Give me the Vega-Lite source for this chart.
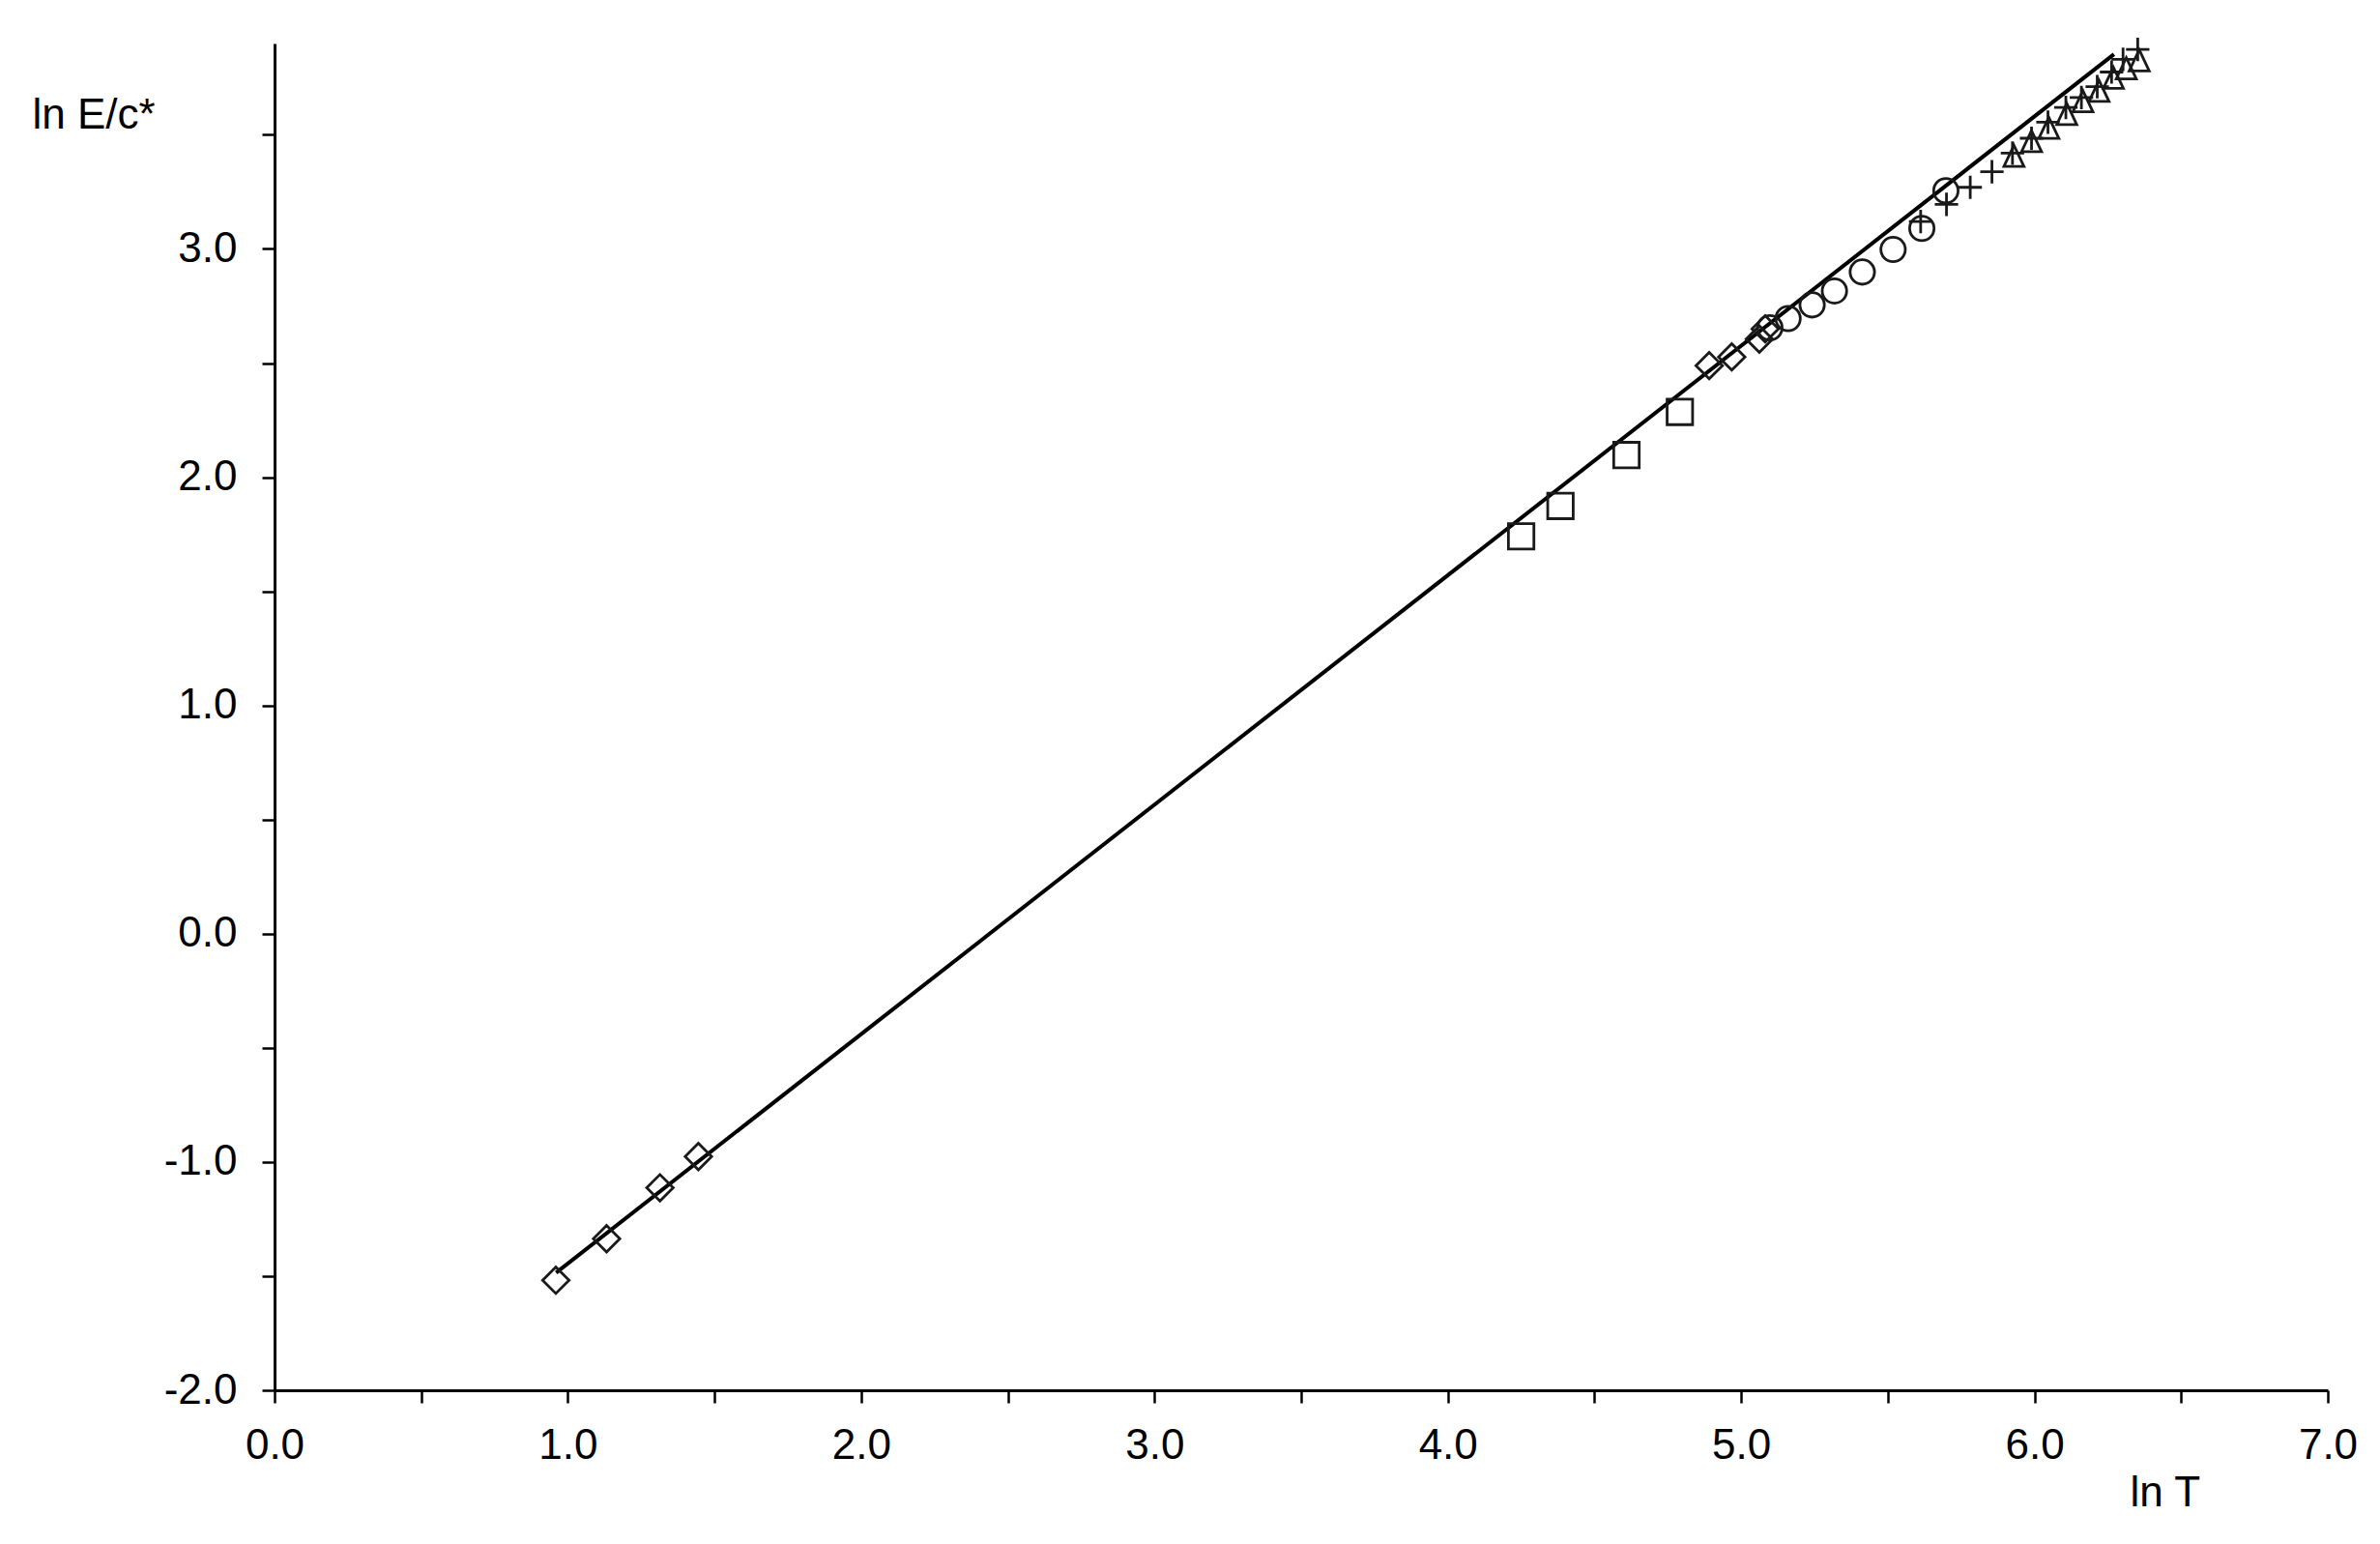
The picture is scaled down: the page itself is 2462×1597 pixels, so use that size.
{
  "$schema": "https://vega.github.io/schema/vega-lite/v6.json",
  "width": 2124,
  "height": 1393,
  "autosize": {"type": "none"},
  "padding": {"left": 284, "top": 45, "right": 54, "bottom": 159},
  "background": "white",
  "config": {
    "view": {"stroke": null},
    "font": "Liberation Sans",
    "axis": {
      "grid": false,
      "domainColor": "#000",
      "domainWidth": 3,
      "tickColor": "#000",
      "tickWidth": 2.5,
      "tickSize": 13,
      "labelFontSize": 44,
      "labelColor": "#000",
      "labelFont": "Liberation Sans",
      "labelFlush": false,
      "labelOverlap": false,
      "titleFont": "Liberation Sans",
      "titleFontSize": 44,
      "titleFontWeight": "normal",
      "titleColor": "#000",
      "titleAngle": 0,
      "titleAlign": "left",
      "titleBaseline": "alphabetic"
    }
  },
  "datasets": {
    "fit": [
      {"lnT": 0.96, "lnE": -1.485},
      {"lnT": 6.271, "lnE": 3.853}
    ],
    "points": [
      {"series": "diamond", "lnT": 0.959, "lnE": -1.518},
      {"series": "diamond", "lnT": 1.132, "lnE": -1.336},
      {"series": "diamond", "lnT": 1.314, "lnE": -1.113},
      {"series": "diamond", "lnT": 1.445, "lnE": -0.976},
      {"series": "diamond", "lnT": 4.891, "lnE": 2.489},
      {"series": "diamond", "lnT": 4.968, "lnE": 2.527},
      {"series": "diamond", "lnT": 5.062, "lnE": 2.605},
      {"series": "diamond", "lnT": 5.082, "lnE": 2.65},
      {"series": "square", "lnT": 4.25, "lnE": 1.741},
      {"series": "square", "lnT": 4.384, "lnE": 1.874},
      {"series": "square", "lnT": 4.609, "lnE": 2.097},
      {"series": "square", "lnT": 4.791, "lnE": 2.286},
      {"series": "circle", "lnT": 5.098, "lnE": 2.655},
      {"series": "circle", "lnT": 5.16, "lnE": 2.695},
      {"series": "circle", "lnT": 5.242, "lnE": 2.755},
      {"series": "circle", "lnT": 5.318, "lnE": 2.816},
      {"series": "circle", "lnT": 5.413, "lnE": 2.899},
      {"series": "circle", "lnT": 5.518, "lnE": 2.998},
      {"series": "circle", "lnT": 5.616, "lnE": 3.09},
      {"series": "circle", "lnT": 5.698, "lnE": 3.255},
      {"series": "cross", "lnT": 5.612, "lnE": 3.12},
      {"series": "cross", "lnT": 5.7, "lnE": 3.195},
      {"series": "cross", "lnT": 5.781, "lnE": 3.27},
      {"series": "cross", "lnT": 5.855, "lnE": 3.338},
      {"series": "cross", "lnT": 5.925, "lnE": 3.42},
      {"series": "cross", "lnT": 5.99, "lnE": 3.485},
      {"series": "cross", "lnT": 6.046, "lnE": 3.555},
      {"series": "cross", "lnT": 6.107, "lnE": 3.62},
      {"series": "cross", "lnT": 6.16, "lnE": 3.663},
      {"series": "cross", "lnT": 6.214, "lnE": 3.711},
      {"series": "cross", "lnT": 6.263, "lnE": 3.775},
      {"series": "cross", "lnT": 6.302, "lnE": 3.831},
      {"series": "cross", "lnT": 6.352, "lnE": 3.874},
      {"series": "triangle", "lnT": 5.93, "lnE": 3.405},
      {"series": "triangle", "lnT": 5.99, "lnE": 3.47},
      {"series": "triangle", "lnT": 6.049, "lnE": 3.528},
      {"series": "triangle", "lnT": 6.11, "lnE": 3.589},
      {"series": "triangle", "lnT": 6.165, "lnE": 3.645},
      {"series": "triangle", "lnT": 6.22, "lnE": 3.69},
      {"series": "triangle", "lnT": 6.269, "lnE": 3.747},
      {"series": "triangle", "lnT": 6.313, "lnE": 3.789},
      {"series": "triangle", "lnT": 6.357, "lnE": 3.824}
    ]
  },
  "encoding": {
    "x": {
      "field": "lnT",
      "type": "quantitative",
      "scale": {"domain": [0, 7], "nice": false, "zero": false},
      "axis": {
        "title": "ln T",
        "values": [0, 0.5, 1, 1.5, 2, 2.5, 3, 3.5, 4, 4.5, 5, 5.5, 6, 6.5, 7],
        "labelExpr": "datum.value % 1 === 0 ? replace(format(datum.value, '.1f'), '\u2212', '-') : ''",
        "labelPadding": 22,
        "titleX": 1919,
        "titleY": 119
      }
    },
    "y": {
      "field": "lnE",
      "type": "quantitative",
      "scale": {"domain": [-2, 3.9], "nice": false, "zero": false},
      "axis": {
        "title": "ln E/c*",
        "values": [-2, -1.5, -1, -0.5, 0, 0.5, 1, 1.5, 2, 2.5, 3, 3.5],
        "labelExpr": "datum.value % 1 === 0 ? replace(format(datum.value, '.1f'), '\u2212', '-') : ''",
        "labelPadding": 26,
        "titleX": -251,
        "titleY": 87
      }
    }
  },
  "layer": [
    {
      "data": {"name": "fit"},
      "mark": {"type": "line", "color": "#000", "strokeWidth": 4}
    },
    {
      "data": {"name": "points"},
      "mark": {"type": "point", "filled": false, "strokeWidth": 2.8, "color": "#1a1a1a", "opacity": 1},
      "encoding": {
        "shape": {
          "field": "series",
          "type": "nominal",
          "scale": {
            "domain": ["diamond", "square", "circle", "cross", "triangle"],
            "range": ["diamond", "square", "circle", "M-1,0L1,0M0,-1L0,1", "M0,-1L0.9,0.9L-0.9,0.9Z"]
          },
          "legend": null
        },
        "size": {
          "field": "series",
          "type": "nominal",
          "scale": {
            "domain": ["diamond", "square", "circle", "cross", "triangle"],
            "range": [750, 529, 529, 441, 520]
          },
          "legend": null
        }
      }
    }
  ]
}
